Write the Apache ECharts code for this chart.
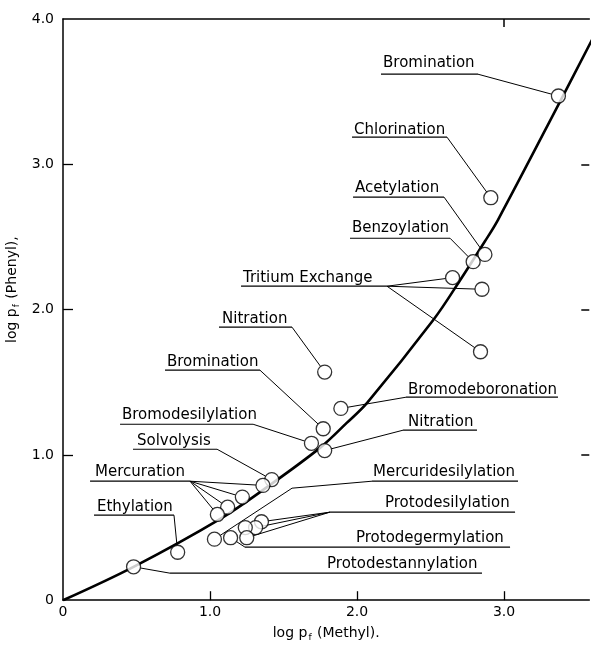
<!DOCTYPE html>
<html><head><meta charset="utf-8">
<script src="https://cdn.jsdelivr.net/npm/echarts@6/dist/echarts.min.js"></script>
<style>html,body{margin:0;padding:0;background:#fff;}#c{width:591px;height:646px;}</style>
</head><body><div id="c"></div>
<script>
// ---- data ----
const reactionNames = ['Bromination','Chlorination','Acetylation','Benzoylation',
  'Tritium Exchange','Tritium Exchange','Tritium Exchange','Nitration','Bromination',
  'Bromodeboronation','Bromodesilylation','Nitration','Solvolysis',
  'Mercuration','Mercuration','Mercuration','Mercuration',
  'Protodesilylation','Protodesilylation','Protodesilylation','Protodesilylation',
  'Protodegermylation','Mercuridesilylation','Ethylation','Protodestannylation'];
const methylLog = [3.37,2.91,2.87,2.79,2.65,2.85,2.84,1.78,1.77,1.89,1.69,1.78,1.42,
  1.36,1.22,1.12,1.05,1.35,1.31,1.24,1.25,1.14,1.03,0.78,0.48];
const phenylLog = [3.47,2.77,2.38,2.33,2.22,2.14,1.71,1.57,1.18,1.32,1.08,1.03,0.83,
  0.79,0.71,0.64,0.59,0.54,0.50,0.50,0.43,0.43,0.42,0.33,0.23];
const curveMethyl = [0,0.48,1.07,1.39,1.75,1.93,2.07,2.52,2.70,2.87,2.96,3.38,3.60];
const curvePhenyl = [0,0.23,0.56,0.78,1.05,1.22,1.36,1.93,2.20,2.47,2.62,3.43,3.86];
const xTickLabels = ['0','1.0','2.0','3.0'];
const yTickLabels = ['0','1.0','2.0','3.0','4.0'];
const labelTexts = ['Bromination','Chlorination','Acetylation','Benzoylation','Tritium Exchange',
  'Nitration','Bromination','Bromodeboronation','Bromodesilylation','Nitration','Solvolysis',
  'Mercuration','Ethylation','Mercuridesilylation','Protodesilylation','Protodegermylation',
  'Protodestannylation'];
const labelTargets = [[0],[1],[2],[3],[4,5,6],[7],[8],[9],[10],[11],[12],[13,14,15,16],[23],[22],[17,18,20],[21],[24]];

// ---- annotation layout (axis units): text anchor, underline [x1,x2,y], leader start ----
const labelLayout = [
  {at:[2.177,3.696], rule:[2.163,2.823,3.620], from:'end'},
  {at:[1.980,3.235], rule:[1.966,2.612,3.187], from:'end'},
  {at:[1.986,2.836], rule:[1.973,2.592,2.774], from:'end'},
  {at:[1.966,2.560], rule:[1.952,2.633,2.491], from:'end'},
  {at:[1.224,2.216], rule:[1.211,2.204,2.161], from:'end'},
  {at:[1.082,1.934], rule:[1.061,1.558,1.879], from:'end'},
  {at:[0.707,1.638], rule:[0.694,1.340,1.583], from:'end'},
  {at:[2.347,1.445], rule:[2.333,3.367,1.397], from:'start'},
  {at:[0.401,1.273], rule:[0.388,1.293,1.211], from:'end'},
  {at:[2.347,1.225], rule:[2.313,2.816,1.170], from:'start'},
  {at:[0.503,1.094], rule:[0.476,1.048,1.039], from:'end'},
  {at:[0.218,0.881], rule:[0.184,0.864,0.819], from:'end'},
  {at:[0.231,0.640], rule:[0.211,0.755,0.585], from:'end'},
  {at:[2.109,0.881], rule:[2.102,3.095,0.819], from:'start', via:[1.558,0.771]},
  {at:[2.190,0.668], rule:[1.816,3.075,0.606], from:'start'},
  {at:[1.993,0.427], rule:[1.238,3.041,0.365], from:'start'},
  {at:[1.796,0.248], rule:[0.728,2.850,0.186], from:'start'}
];

const FONT = '"DejaVu Sans", sans-serif';
const R = 7;
const chart = echarts.init(document.getElementById('c'), null, {renderer:'canvas'});

function renderLabel(params, api) {
  const i = params.dataIndex;
  const L = labelLayout[i];
  const p = api.coord(L.at);
  const a = api.coord([L.rule[0], L.rule[2]]);
  const b = api.coord([L.rule[1], L.rule[2]]);
  const children = [
    {type:'text', style:{text:labelTexts[i], x:p[0], y:p[1], fill:'#000',
      font:'15px ' + FONT, align:'left', verticalAlign:'middle'}},
    {type:'line', shape:{x1:a[0], y1:a[1], x2:b[0], y2:b[1]}, style:{stroke:'#000', lineWidth:1.2}}
  ];
  const start = L.from === 'start' ? a : b;
  labelTargets[i].forEach(ci => {
    const pts = [start.slice()];
    if (L.via) pts.push(api.coord(L.via));
    const c = api.coord([methylLog[ci], phenylLog[ci]]);
    const prev = pts[pts.length - 1];
    const dx = c[0] - prev[0], dy = c[1] - prev[1], d = Math.hypot(dx, dy);
    pts.push([c[0] - dx / d * R, c[1] - dy / d * R]);
    children.push({type:'polyline', shape:{points:pts}, style:{stroke:'#000', lineWidth:1, fill:null}});
  });
  return {type:'group', children};
}

const fmtX = v => Number.isInteger(v) && v < xTickLabels.length ? xTickLabels[v] : '';
const fmtY = v => Number.isInteger(v) && v < yTickLabels.length ? yTickLabels[v] : '';
const axisLineStyle = {show:true, onZero:false, lineStyle:{color:'#000', width:1.5}};
const nameRich = {
  t:{fontSize:14, fontFamily:FONT, color:'#000'},
  s:{fontSize:9, fontFamily:FONT, color:'#000', padding:[8,1,0,1]}
};

chart.setOption({
  animation:false,
  backgroundColor:'#fff',
  grid:{left:63, top:19, width:526.3, height:581.2, containLabel:false, outerBoundsMode:'none'},
  xAxis:[
    {type:'value', min:0, max:3.58, interval:1, position:'bottom',
     axisLine:axisLineStyle,
     axisTick:{show:true, inside:true, length:9, customValues:[1,2,3], lineStyle:{color:'#000', width:1.3}},
     axisLabel:{formatter:fmtX, color:'#000', fontSize:14, fontFamily:FONT, margin:5},
     splitLine:{show:false},
     name:'{t|log p}{s|f}{t| (Methyl).}', nameLocation:'middle', nameGap:25,
     nameTextStyle:{rich:nameRich}},
    {type:'value', min:0, max:3.58, interval:1, position:'top',
     axisLine:axisLineStyle,
     axisTick:{show:true, inside:true, length:8, customValues:[3], lineStyle:{color:'#000', width:1.5}},
     axisLabel:{show:false}, splitLine:{show:false}}
  ],
  yAxis:[
    {type:'value', min:0, max:4, interval:1, position:'left',
     axisLine:axisLineStyle,
     axisTick:{show:true, inside:true, length:10, customValues:[1,2,3], lineStyle:{color:'#000', width:1.3}},
     axisLabel:{formatter:fmtY, color:'#000', fontSize:14, fontFamily:FONT, margin:9},
     splitLine:{show:false},
     name:'{t|log p}{s|f}{t| (Phenyl),}', nameLocation:'middle', nameGap:38,
     nameTextStyle:{rich:nameRich, padding:[0,0,0,40]}},
    {type:'value', min:0, max:4, interval:1, position:'right',
     axisLine:{show:false, onZero:false},
     axisTick:{show:true, inside:true, length:8, customValues:[1,2,3], lineStyle:{color:'#000', width:1.5}},
     axisLabel:{show:false}, splitLine:{show:false}}
  ],
  series:[
    {type:'line', z:2, smooth:0.35, symbol:'none', data:curveMethyl.map((x,i)=>[x, curvePhenyl[i]]),
     lineStyle:{color:'#000', width:2.6}},
    {type:'custom', z:3, coordinateSystem:'cartesian2d', renderItem:renderLabel,
     data:labelLayout.map(l => l.at), clip:false},
    {type:'scatter', z:4, symbol:'circle', symbolSize:14,
     data:methylLog.map((x,i)=>({name:reactionNames[i], value:[x, phenylLog[i]]})),
     itemStyle:{color:'#fff', borderColor:'#000', borderWidth:1.3}}
  ]
});
</script></body></html>
